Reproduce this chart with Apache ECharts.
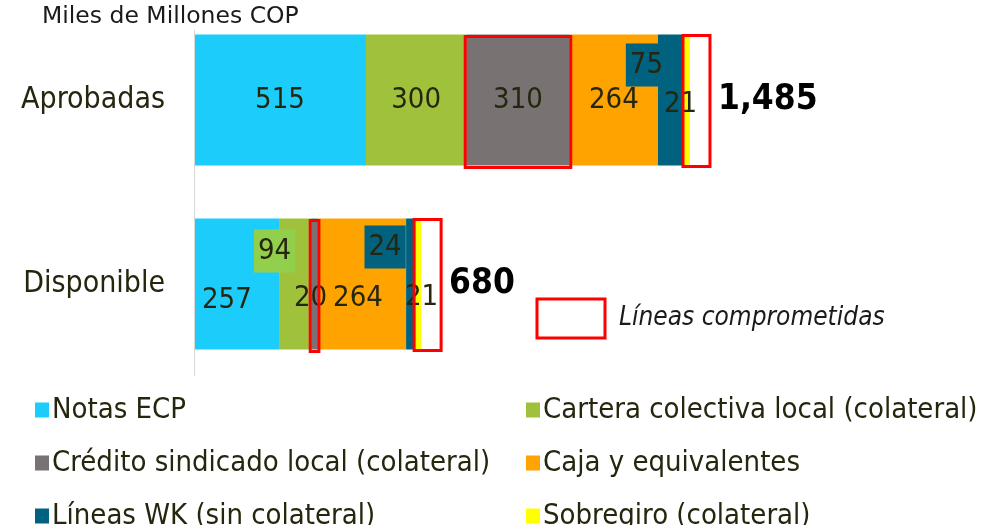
<!DOCTYPE html>
<html>
<head>
<meta charset="utf-8">
<script src="https://cdn.jsdelivr.net/npm/echarts@6/dist/echarts.min.js"></script>
<style>
html,body{margin:0;padding:0;background:#fff;}
#chart{width:992px;height:525px;}
</style>
</head>
<body>
<div id="chart"></div>
<script>
var categories = ['Aprobadas', 'Disponible'];
var seriesNames = ['Notas ECP', 'Cartera colectiva local (colateral)', 'Crédito sindicado local (colateral)',
	'Caja y equivalentes', 'Líneas WK (sin colateral)', 'Sobregiro (colateral)'];
var notasECP = [515, 257];
var cartera = [300, 94];
var credito = [310, 20];
var caja = [264, 264];
var lineasWK = [75, 24];
var sobregiro = [21, 21];
var totals = [1485, 680];
var unitTitle = 'Miles de Millones COP';
var committedLabel = 'Líneas comprometidas';

var colors = ['#1ccdfc', '#a0c13b', '#787272', '#ffa300', '#00627f', '#ffff00'];
var font = '"DejaVu Sans Condensed", "DejaVu Sans", sans-serif';
var txt = '#26260f';

var chart = echarts.init(document.getElementById('chart'));

// etiquetas desplazadas (segmentos estrechos)
var labelOffsets = {
	0: [[0, 0], [-10, 16]],
	1: [[0, 0], [-21, -33]],
	2: [[0, 0], [-4, 14]],
	3: [[0, 0], [-4, 14]],
	4: [[-24, -35], [-25, -37]],
	5: [[-6, 4], [4, 13]]
};
var boxBg = {1: [null, '#92cf4c'], 4: ['#00627f', '#00627f']};

var values = [notasECP, cartera, credito, caja, lineasWK, sobregiro];
var series = values.map(function (vals, i) {
	return {
		name: seriesNames[i],
		type: 'bar',
		stack: 'total',
		barWidth: 131,
		itemStyle: {color: colors[i]},
		data: vals.map(function (v, j) {
			var lbl = {
				show: true,
				position: 'inside',
				offset: labelOffsets[i][j],
				color: txt,
				fontSize: 29,
				fontFamily: font
			};
			if (boxBg[i] && boxBg[i][j]) {
				lbl.backgroundColor = boxBg[i][j];
				lbl.padding = [8, 4, 6, 4];
			}
			return {value: v, label: lbl};
		})
	};
});

series.push({
	name: 'total',
	type: 'scatter',
	symbolSize: 0,
	silent: true,
	itemStyle: {opacity: 1},
	data: totals.map(function (t, j) { return [t, categories[j]]; }),
	label: {
		show: true,
		position: 'right',
		distance: 0,
		offset: [28, 0],
		fontSize: 35,
		fontWeight: 'bold',
		color: '#000',
		opacity: 1,
		fontFamily: font,
		formatter: function (p) { return p.value[0].toLocaleString('en-US'); }
	}
});

var legendText = {fontSize: 29, lineHeight: 30, color: txt, fontFamily: font, padding: [0, 0, 0, -2]};
var option = {
	animation: false,
	textStyle: {fontFamily: font},
	grid: {left: 194, right: 130, top: 8, bottom: 149},
	xAxis: {
		type: 'value',
		min: 0,
		max: 2000,
		show: false
	},
	yAxis: {
		type: 'category',
		data: categories,
		inverse: true,
		axisLine: {show: false},
		axisTick: {show: false},
		axisLabel: {
			fontSize: 30,
			color: txt,
			fontFamily: font,
			margin: 29
		}
	},
	legend: [{
		data: [seriesNames[0], seriesNames[2], seriesNames[4]],
		orient: 'vertical',
		left: 30,
		top: 390,
		height: 200,
		itemWidth: 14,
		itemHeight: 15,
		itemGap: 23,
		icon: 'rect',
		selectedMode: false,
		textStyle: legendText
	}, {
		data: [seriesNames[1], seriesNames[3], seriesNames[5]],
		orient: 'vertical',
		left: 521,
		top: 390,
		height: 200,
		itemWidth: 14,
		itemHeight: 15,
		itemGap: 23,
		icon: 'rect',
		selectedMode: false,
		textStyle: legendText
	}],
	series: series
};
chart.setOption(option);

// recuadros rojos: líneas comprometidas
function px(v, j) { return chart.convertToPixel({gridIndex: 0}, [v, categories[j]]); }
var graphics = [
	{type: 'line', z: 100, shape: {x1: 194.5, y1: 30, x2: 194.5, y2: 376}, style: {stroke: '#d9d9d9', lineWidth: 1}},
	{type: 'text', z: 100, left: 42, top: 5, style: {text: unitTitle, fontSize: 23.5, fill: '#1a1a1a', fontFamily: '"DejaVu Sans", sans-serif'}},
	{type: 'rect', z: 100, shape: {x: 537, y: 299, width: 68, height: 39}, style: {fill: 'none', stroke: '#ff0000', lineWidth: 3}},
	{type: 'text', z: 100, left: 619, top: 305, style: {text: committedLabel, fontSize: 26, fontStyle: 'italic', fill: '#1a1a1a', fontFamily: font}}
];
for (var j = 0; j < categories.length; j++) {
	var c0 = notasECP[j] + cartera[j];
	var c1 = c0 + credito[j];
	var c2 = c1 + caja[j] + lineasWK[j];
	var a = px(c0, j), b = px(c1, j), d = px(c2, j);
	var half = 131 / 2;
	graphics.push({type: 'rect', z: 100, shape: {x: a[0] - 1, y: a[1] - half + 2, width: b[0] - a[0] + 2, height: 131},
		style: {fill: 'none', stroke: '#ff0000', lineWidth: 3}});
	graphics.push({type: 'rect', z: 100, shape: {x: d[0], y: d[1] - half + 1, width: 27, height: 131},
		style: {fill: 'none', stroke: '#ff0000', lineWidth: 3}});
}
chart.setOption({graphic: graphics});
</script>
</body>
</html>
